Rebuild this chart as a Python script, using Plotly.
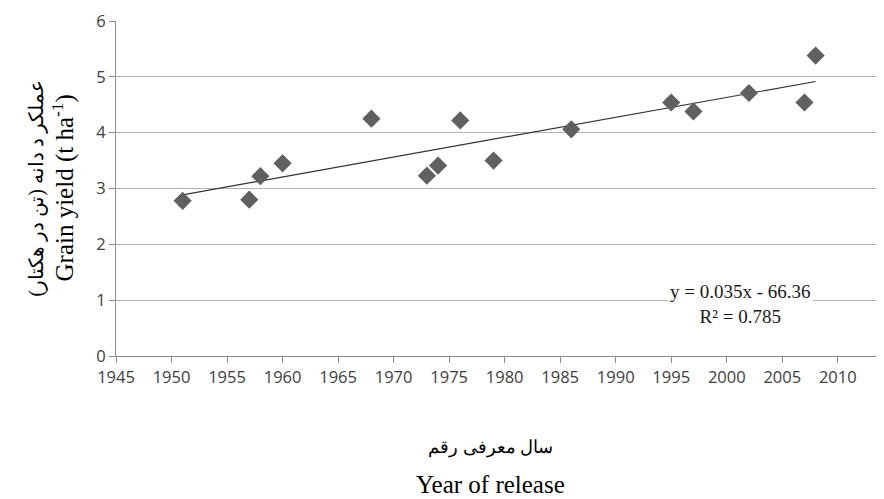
import numpy as np
import plotly.graph_objects as go

years = [1951, 1957, 1958, 1960, 1968, 1973, 1974, 1976, 1979, 1986, 1995, 1997, 2002, 2007, 2008]
yields = [2.78, 2.80, 3.22, 3.45, 4.25, 3.23, 3.41, 4.22, 3.50, 4.06, 4.54, 4.38, 4.71, 4.54, 5.38]
x_ticks = list(range(1945, 2015, 5))
y_ticks = [0, 1, 2, 3, 4, 5, 6]
equation_text = "y = 0.035x - 66.36"
r2_text = "R² = 0.785"

slope, intercept = np.polyfit(years, yields, 1)
trend_x = [min(years), max(years)]
trend_y = [slope * v + intercept for v in trend_x]

fig = go.Figure()
fig.add_trace(go.Scatter(x=trend_x, y=trend_y, mode="lines",
                         line=dict(color="#333333", width=1.2), hoverinfo="skip"))
fig.add_trace(go.Scatter(x=years, y=yields, mode="markers",
                         marker=dict(symbol="diamond", size=14, color="#606060")))

serif = "Liberation Serif"
tickfont = dict(family="Open Sans", size=16.5, color="#404040")
fig.update_layout(
    width=884, height=499,
    margin=dict(l=108, r=12, t=13, b=151, autoexpand=False),
    paper_bgcolor="white", plot_bgcolor="white",
    showlegend=False,
    xaxis=dict(range=[1945, 2013.8], tickvals=x_ticks, showgrid=False,
               showline=True, linecolor="#8c8c8c", linewidth=1,
               ticks="outside", ticklen=6, tickcolor="#8c8c8c",
               tickfont=tickfont, zeroline=False, automargin=False),
    yaxis=dict(range=[0, 6], tickvals=y_ticks, showgrid=True, gridcolor="#b3b3b3",
               gridwidth=1, showline=True, linecolor="#8c8c8c", linewidth=1,
               ticks="outside", ticklen=6, tickcolor="#8c8c8c",
               tickfont=tickfont, zeroline=False, automargin=False),
)

fig.add_annotation(xref="paper", yref="paper", x=0.818, y=0.155,
                   xanchor="center", yanchor="middle",
                   text=equation_text + "<br>" + r2_text, showarrow=False,
                   font=dict(family=serif, size=19, color="#1a1a1a"),
                   bgcolor="white", align="center")

fig.add_annotation(xref="paper", yref="paper", x=0, y=0.5, xshift=-80,
                   xanchor="center", yanchor="middle",
                   text="عملکر د دانه (تن در هکتار)", textangle=-90, showarrow=False,
                   font=dict(family=serif, size=20, color="black"))
fig.add_annotation(xref="paper", yref="paper", x=0, y=0.5, xshift=-53,
                   xanchor="center", yanchor="middle",
                   text="Grain yield (t ha<sup>-1</sup>)", textangle=-90, showarrow=False,
                   font=dict(family=serif, size=25, color="black"))

fig.add_annotation(xref="paper", yref="paper", x=0.49, y=0, yshift=-91,
                   xanchor="center", yanchor="middle",
                   text="سال معرفی رقم", showarrow=False,
                   font=dict(family=serif, size=18, color="black"))
fig.add_annotation(xref="paper", yref="paper", x=0.49, y=0, yshift=-128,
                   xanchor="center", yanchor="middle",
                   text="Year of release", showarrow=False,
                   font=dict(family=serif, size=25, color="black"))

fig.write_html("out.html")
